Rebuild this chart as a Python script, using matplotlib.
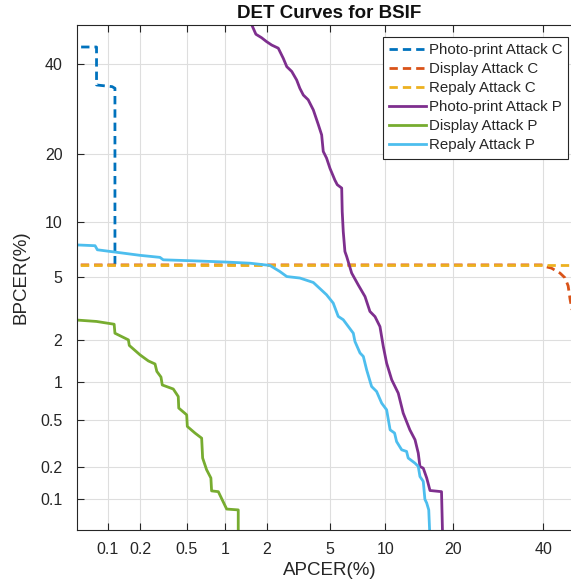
import math
import numpy as np
import matplotlib
matplotlib.use("Agg")
import matplotlib.pyplot as plt
from matplotlib.ticker import FixedLocator, NullLocator, FixedFormatter

# ---------------- data (percent) ----------------
photo_c_apcer = [0.055, 0.078, 0.078, 0.11, 0.117, 0.117]
photo_c_bpcer = [44.3, 44.3, 34.8, 34.4, 34.0, 5.9]

display_c_apcer = [0.04, 40.0, 40.45, 42.1, 44.3, 45.6, 46.4, 46.9, 47.8, 49.0]
display_c_bpcer = [5.9, 5.9, 5.78, 5.66, 5.30, 4.97, 4.46, 3.70, 2.8, 1.8]

replay_c_apcer = [0.04, 50.0]
replay_c_bpcer = [5.9, 5.9]

photo_p_apcer = [1.55, 1.68, 1.84, 1.99, 2.16, 2.39, 2.58, 2.72, 2.93, 3.15,
                 3.30, 3.47, 3.72, 4.00, 4.29, 4.49, 4.59, 4.80, 5.03, 5.37,
                 5.54, 5.87, 5.91, 5.99, 6.12, 6.26, 6.67, 7.24, 7.87, 8.35,
                 8.87, 9.40, 9.77, 10.15, 10.75, 11.56, 12.2, 13.1, 13.83, 14.3,
                 14.55, 15.05, 15.58, 16.1, 18.0, 18.2]
photo_p_bpcer = [50.5, 47.6, 46.7, 45.7, 44.8, 44.0, 41.4, 39.3, 38.1, 36.0,
                 34.0, 32.4, 31.3, 29.0, 25.8, 23.7, 20.5, 19.3, 17.5, 15.6,
                 14.9, 14.4, 11.2, 8.91, 7.0, 6.57, 5.30, 4.52, 3.84, 3.10,
                 2.87, 2.47, 1.81, 1.38, 1.04, 0.822, 0.572, 0.417, 0.344, 0.264,
                 0.201, 0.194, 0.158, 0.121, 0.118, 0.04]

display_p_apcer = [0.045, 0.078, 0.115, 0.117, 0.156, 0.159, 0.199, 0.236, 0.270,
                   0.280, 0.304, 0.312, 0.387, 0.426, 0.43, 0.50, 0.506, 0.584,
                   0.66, 0.672, 0.722, 0.78, 0.79, 0.89, 1.03, 1.255, 1.255]
display_p_bpcer = [2.74, 2.67, 2.56, 2.23, 2.01, 1.84, 1.58, 1.43, 1.36,
                   1.20, 1.09, 0.95, 0.885, 0.774, 0.628, 0.554, 0.445, 0.392,
                   0.355, 0.239, 0.188, 0.158, 0.120, 0.118, 0.0805, 0.079, 0.04]

replay_p_apcer = [0.045, 0.0755, 0.0795, 0.117, 0.199, 0.298, 0.318, 0.566, 1.03,
                  1.53, 2.10, 2.45, 2.72, 3.30, 4.00, 4.80, 5.25, 5.61, 5.99,
                  6.81, 6.95, 7.40, 7.71, 8.03, 8.52, 9.04, 9.59, 10.15, 10.56,
                  11.1, 11.35, 12.0, 12.65, 12.87, 13.83, 14.3, 14.55, 15.05,
                  15.3, 15.58, 15.9, 16.1]
replay_p_bpcer = [7.61, 7.52, 7.15, 6.95, 6.67, 6.50, 6.30, 6.22, 6.12,
                  6.03, 5.86, 5.41, 5.06, 4.96, 4.67, 3.94, 3.50, 2.88, 2.74,
                  2.23, 1.96, 1.63, 1.54, 1.23, 0.925, 0.847, 0.687, 0.608, 0.417,
                  0.392, 0.332, 0.282, 0.273, 0.239, 0.215, 0.201, 0.163, 0.147,
                  0.10, 0.092, 0.079, 0.04]

labels = ["Photo-print Attack C", "Display Attack C", "Repaly Attack C",
          "Photo-print Attack P", "Display Attack P", "Repaly Attack P"]
tick_vals = [0.1, 0.2, 0.5, 1, 2, 5, 10, 20, 40]
tick_labels = ["0.1", "0.2", "0.5", "1", "2", "5", "10", "20", "40"]

# ---------------- probit scale ----------------
_a = [-3.969683028665376e+01, 2.209460984245205e+02, -2.759285104469687e+02,
      1.383577518672690e+02, -3.066479806614716e+01, 2.506628277459239e+00]
_b = [-5.447609879822406e+01, 1.615858368580409e+02, -1.556989798598866e+02,
      6.680131188771972e+01, -1.328068155288572e+01]
_c = [-7.784894002430293e-03, -3.223964580411365e-01, -2.400758277161838e+00,
      -2.549732539343734e+00, 4.374664141464968e+00, 2.938163982698783e+00]
_d = [7.784695709041462e-03, 3.224671290700398e-01, 2.445134137142996e+00,
      3.754408661907416e+00]


def _ppf(p):
    p = np.asarray(p, dtype=float)
    shape = p.shape
    p = np.clip(np.atleast_1d(p).ravel(), 1e-12, 1 - 1e-12)
    x = np.empty_like(p)
    plow = 0.02425
    lo = p < plow
    hi = p > 1 - plow
    mid = ~(lo | hi)
    q = np.sqrt(-2 * np.log(p[lo]))
    x[lo] = (((((_c[0]*q+_c[1])*q+_c[2])*q+_c[3])*q+_c[4])*q+_c[5]) / \
            ((((_d[0]*q+_d[1])*q+_d[2])*q+_d[3])*q+1)
    q = np.sqrt(-2 * np.log(1 - p[hi]))
    x[hi] = -(((((_c[0]*q+_c[1])*q+_c[2])*q+_c[3])*q+_c[4])*q+_c[5]) / \
        ((((_d[0]*q+_d[1])*q+_d[2])*q+_d[3])*q+1)
    q = p[mid] - 0.5
    r = q * q
    x[mid] = (((((_a[0]*r+_a[1])*r+_a[2])*r+_a[3])*r+_a[4])*r+_a[5])*q / \
             (((((_b[0]*r+_b[1])*r+_b[2])*r+_b[3])*r+_b[4])*r+1)
    return x.reshape(shape)


_erf = np.vectorize(math.erf, otypes=[float])


def _cdf(z):
    z = np.asarray(z, dtype=float)
    return 0.5 * (1 + _erf(z / math.sqrt(2)))


def fwd(v):
    return _ppf(np.asarray(v, dtype=float) / 100.0)


def inv(z):
    return 100.0 * _cdf(z)


# ---------------- figure ----------------
plt.rcParams['font.family'] = ['Liberation Sans', 'DejaVu Sans']
W, H = 571, 586
fig = plt.figure(figsize=(W / 100, H / 100), dpi=100)
ax = fig.add_axes([77 / W, 56 / H, 505 / W, 505 / H])
ax.set_xscale('function', functions=(fwd, inv))
ax.set_yscale('function', functions=(fwd, inv))

colors = ["#0072BD", "#D95319", "#EDB120", "#7E2F8E", "#77AC30", "#4DBEEE"]
dash = (3.0, 1.8)
lw = 2.0
ax.plot(photo_c_apcer, photo_c_bpcer, color=colors[0], lw=lw, dashes=dash, label=labels[0])
ax.plot(display_c_apcer, display_c_bpcer, color=colors[1], lw=lw, dashes=dash, label=labels[1])
ax.plot(replay_c_apcer, replay_c_bpcer, color=colors[2], lw=lw, dashes=dash, label=labels[2])
ax.plot(photo_p_apcer, photo_p_bpcer, color=colors[3], lw=lw, label=labels[3])
ax.plot(display_p_apcer, display_p_bpcer, color=colors[4], lw=lw, label=labels[4])
ax.plot(replay_p_apcer, replay_p_bpcer, color=colors[5], lw=lw, label=labels[5])

ax.set_xlim(0.05, 50)
ax.set_ylim(0.05, 50)
for axis in (ax.xaxis, ax.yaxis):
    axis.set_major_locator(FixedLocator(tick_vals))
    axis.set_major_formatter(FixedFormatter(tick_labels))
    axis.set_minor_locator(NullLocator())

dark = "#262626"
ax.grid(True, color="#dedede", lw=0.8)
ax.set_axisbelow(True)
for s in ax.spines.values():
    s.set_color(dark)
    s.set_linewidth(0.8)
ax.tick_params(direction='in', top=True, right=True, length=5, width=0.8,
               color=dark, labelcolor=dark, labelsize=11.5)
ax.tick_params(axis='x', pad=8.5)
ax.tick_params(axis='y', pad=10.5)

ax.set_xlabel("APCER(%)", fontsize=13.5, color=dark, labelpad=4)
ax.set_ylabel("BPCER(%)", fontsize=13.5, color=dark, labelpad=8)
ax.set_title("DET Curves for BSIF", fontsize=13.5, fontweight='bold', color="#111111", pad=5)

leg = ax.legend(loc='upper right', bbox_to_anchor=((568 - 77) / 505, 1 - (37 - 25) / 505),
                borderaxespad=0, fancybox=False, fontsize=10.8, handlelength=2.45,
                handletextpad=0.2, labelspacing=0.34, borderpad=0.4, framealpha=1)
leg.get_frame().set_edgecolor(dark)
leg.get_frame().set_linewidth(0.8)
for t in leg.get_texts():
    t.set_color(dark)

fig.savefig("out.png", dpi=100)
